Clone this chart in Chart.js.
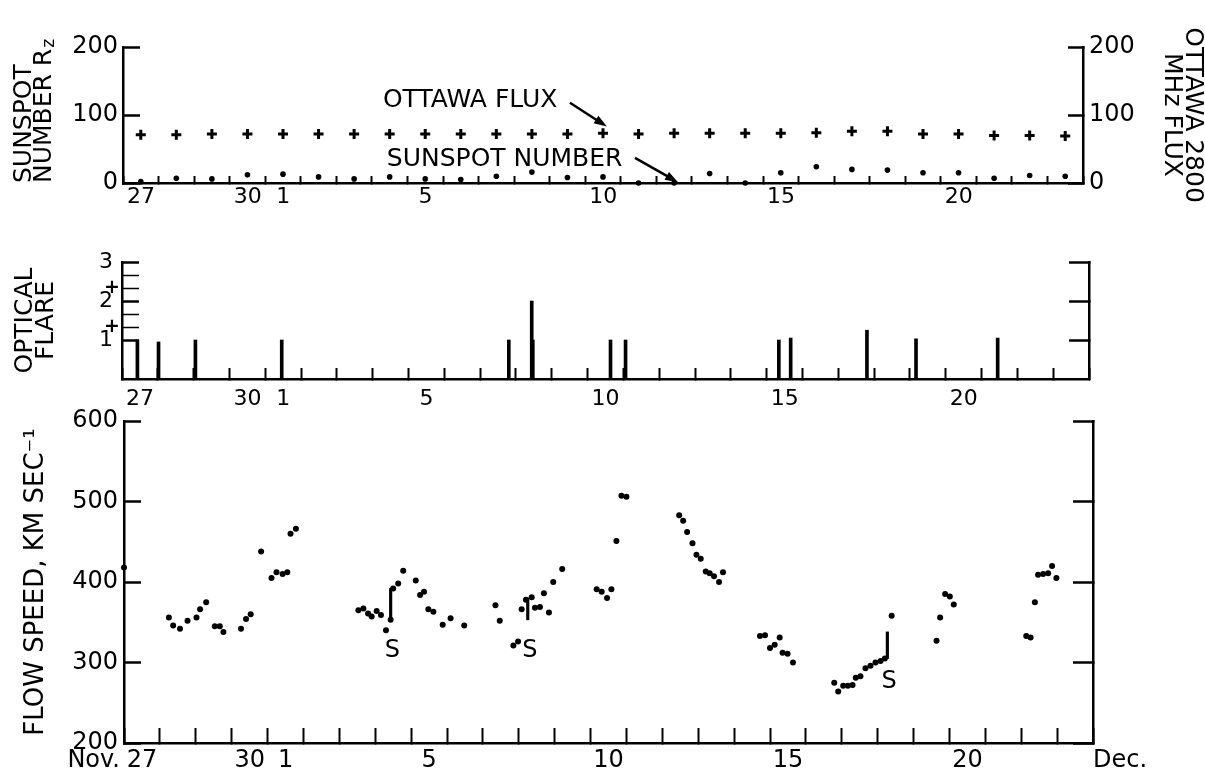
<!DOCTYPE html>
<html>
<head>
<meta charset="utf-8">
<script src="https://cdn.jsdelivr.net/npm/chart.js@4"></script>
<style>
  html, body { margin: 0; padding: 0; background: #fff; }
  #wrap { position: relative; width: 1205px; height: 779px; overflow: hidden; }
  canvas { position: absolute; left: 0; }
</style>
</head>
<body>
<div id="wrap">
  <canvas id="sunspotChart" width="1205" height="215" style="top:0"></canvas>
  <canvas id="flareChart" width="1205" height="195" style="top:215px"></canvas>
  <canvas id="speedChart" width="1205" height="379" style="top:400px"></canvas>
</div>
<script>
const FONT = '"DejaVu Sans", sans-serif';
const INK = "#000";

// days run Nov 27 .. Dec 23, one entry per day
const dayLabels = ["27", "28", "29", "30", "1", "2", "3", "4", "5", "6", "7", "8", "9", "10",
  "11", "12", "13", "14", "15", "16", "17", "18", "19", "20", "21", "22", "23"];
const shownDays = ["27", "30", "1", "5", "10", "15", "20"];

// daily values (top panel)
const sunspotNumber = [2, 7, 6, 12, 13, 9, 6, 9, 6, 5, 10, 16, 8, 9, 0, 0, 14, 0, 15, 24, 20, 19, 15, 15, 7, 11, 10];
const ottawaFlux = [71, 71, 72, 72, 72, 72, 72, 72, 72, 72, 72, 72, 72, 73, 72, 73, 73, 73, 73, 74, 76, 76, 72, 72, 70, 70, 69];
const fluxTicks = [0, 100, 200];

// optical flares: time in days after Nov 27 0h, importance
const flareClasses = ["1", "1+", "2-", "2", "2+", "3-", "3"];
const flareDay = [0.43, 1.02, 2.05, 4.46, 10.80, 11.44, 11.47, 13.64, 14.06, 18.34, 18.67, 20.80, 22.17, 24.45];
const flareImportance = [1, 0.95, 1, 1, 1, 2, 1, 1, 1, 1, 1.05, 1.25, 1.03, 1.05];

// solar wind flow speed
const speedDay = [0.00, 1.25, 1.37, 1.56, 1.77, 2.02, 2.12, 2.29, 2.53, 2.67, 2.77, 3.26, 3.40, 3.53, 3.82, 4.11, 4.25, 4.42, 4.55, 4.64, 4.79,
  6.53, 6.67, 6.80, 6.90, 7.04, 7.16, 7.30, 7.43, 7.50, 7.64, 7.78, 8.13, 8.25, 8.36, 8.48, 8.62, 8.88, 9.10, 9.48,
  10.35, 10.47, 10.85, 10.98, 11.08, 11.20, 11.36, 11.45, 11.59, 11.70, 11.84, 11.96, 12.21,
  13.17, 13.31, 13.46, 13.58, 13.72, 13.86, 14.00,
  15.47, 15.58, 15.69, 15.84, 15.95, 16.07, 16.21, 16.32, 16.44, 16.58, 16.69,
  17.72, 17.86, 18.00, 18.13, 18.27, 18.35, 18.49, 18.64,
  19.79, 19.90, 20.04, 20.17, 20.30, 20.39, 20.52, 20.66, 20.80, 20.94, 21.08, 21.20, 21.39,
  22.64, 22.74, 22.88, 23.01, 23.12,
  25.14, 25.26, 25.38, 25.47, 25.61, 25.75, 25.86, 25.98];
const speedKms = [418, 356, 346, 342, 352, 356, 366, 375, 345, 345, 338, 342, 354, 360, 438, 405, 412, 410, 412, 460, 466,
  365, 367, 361, 357, 364, 359, 340, 353, 392, 398, 414, 402, 384, 388, 366, 363, 347, 355, 346,
  371, 352, 321, 326, 366, 378, 381, 368, 369, 386, 362, 400, 416,
  391, 388, 380, 391, 451, 507, 506,
  483, 476, 462, 448, 434, 429, 413, 411, 407, 400, 412,
  333, 334, 318, 322, 331, 312, 311, 300,
  275, 264, 271, 271, 272, 281, 283, 293, 296, 300, 302, 305, 358,
  327, 356, 385, 382, 372,
  333, 331, 375, 409, 410, 411, 420, 405];
const speedTicks = [200, 300, 400, 500, 600];

// shocks (S): jump in speed
const shockDay = [7.43, 11.25, 21.27];
const shockFrom = [353, 353, 305];
const shockTo = [392, 380, 338];

function classValue(c) {
  const base = parseInt(c, 10);
  if (c.endsWith("+")) return base + 1 / 3;
  if (c.endsWith("-")) return base - 1 / 3;
  return base;
}

// label paddings would otherwise push the plot area around
function noScalePadding(s) {
  s.paddingTop = 0;
  s.paddingBottom = 0;
  s.paddingLeft = 0;
  s.paddingRight = 0;
}

function dayAxis(tick, pad, size, height) {
  return {
    type: "linear", min: 0, max: dayLabels.length, offset: false,
    border: { color: INK, width: 2.5 },
    grid: { drawOnChartArea: false, offset: false, tickLength: -tick, tickColor: INK, tickWidth: 2 },
    ticks: {
      autoSkip: false, maxRotation: 0, minRotation: 0, labelOffset: 18, padding: pad, color: INK,
      font: { family: FONT, size, lineHeight: 1 },
      callback: (v) => {
        const lab = dayLabels[Math.round(v)];
        return shownDays.includes(lab) ? lab : "";
      }
    },
    afterBuildTicks: (s) => { s.ticks = dayLabels.map((_, i) => ({ value: i })).concat({ value: dayLabels.length }); },
    afterFit: (s) => { s.height = height; noScalePadding(s); }
  };
}

function valueAxis(position, o) {
  const tSize = o.titleSize || 24;
  return {
    type: "linear", position, min: o.min, max: o.max,
    border: { color: INK, width: 2.5 },
    grid: { drawOnChartArea: false, tickLength: -o.tick, tickColor: INK, tickWidth: o.tickWidth || 2.5 },
    ticks: {
      display: o.labels !== false, autoSkip: false, padding: o.pad || 0, color: INK,
      font: o.font || { family: FONT, size: o.size || 24, lineHeight: 1 },
      callback: o.callback || ((v) => String(v))
    },
    title: o.title ? {
      display: true, text: o.title, align: o.titleAlign || "center", color: INK,
      font: { family: FONT, size: tSize, lineHeight: o.titleLine / tSize },
      padding: { top: o.titlePad, bottom: 0 }
    } : { display: false },
    afterBuildTicks: (s) => { s.ticks = o.values.map((v) => ({ value: v })); },
    afterFit: (s) => { s.width = o.width; noScalePadding(s); }
  };
}

function baseOptions(top, scales) {
  return {
    responsive: false,
    animation: false,
    events: [],
    layout: { padding: { top, left: 0, right: 0, bottom: 0 } },
    plugins: { legend: { display: false }, tooltip: { enabled: false } },
    scales
  };
}

function drawArrow(ctx, x1, y1, x2, y2) {
  const ang = Math.atan2(y2 - y1, x2 - x1);
  const len = 13, half = 4.5;
  const c = Math.cos(ang), s = Math.sin(ang);
  ctx.lineWidth = 2.5;
  ctx.beginPath();
  ctx.moveTo(x1, y1);
  ctx.lineTo(x2 - c * len * 0.8, y2 - s * len * 0.8);
  ctx.stroke();
  ctx.beginPath();
  ctx.moveTo(x2, y2);
  ctx.lineTo(x2 - c * len + s * half, y2 - s * len - c * half);
  ctx.lineTo(x2 - c * len - s * half, y2 - s * len + c * half);
  ctx.closePath();
  ctx.fill();
}

// free text + arrows placed in data units of the chart's own scales
function notes(cfg) {
  return {
    id: "notes",
    afterDraw(chart) {
      const { ctx, scales } = chart;
      const xs = scales.x;
      ctx.save();
      ctx.fillStyle = INK;
      ctx.strokeStyle = INK;
      (cfg.texts || []).forEach((t) => {
        const ys = scales[t.axis || "y"];
        ctx.font = (t.size || 24) + "px " + FONT;
        ctx.textAlign = t.align || "left";
        ctx.textBaseline = t.baseline || "alphabetic";
        ctx.fillText(t.text, xs.getPixelForValue(t.x), ys.getPixelForValue(t.y));
      });
      (cfg.arrows || []).forEach((a) => {
        const ys = scales[a.axis || "y"];
        drawArrow(ctx, xs.getPixelForValue(a.from[0]), ys.getPixelForValue(a.from[1]),
          xs.getPixelForValue(a.to[0]), ys.getPixelForValue(a.to[1]));
      });
      // texts sitting on the tick label row of the x axis
      (cfg.rowTexts || []).forEach((t) => {
        const o = xs.options;
        const size = o.ticks.font.size;
        const y = xs.top + o.grid.tickLength + o.ticks.padding + size / 2;
        ctx.font = size + "px " + FONT;
        ctx.textAlign = t.align;
        ctx.textBaseline = "middle";
        ctx.fillText(t.text, xs.getPixelForValue(t.x) + (t.nudge || 0), y);
      });
      ctx.restore();
    }
  };
}

const TOP_TITLE = { size: 25, line: 20, pad: 14 };

// subscript z of R_z in the sunspot axis title
const rzSubscript = {
  id: "rzSubscript",
  afterDraw(chart) {
    const s = chart.scales.y;
    const ctx = chart.ctx;
    ctx.save();
    ctx.font = TOP_TITLE.size + "px " + FONT;
    const w = ctx.measureText("NUMBER R").width;
    const lineX = s.left + TOP_TITLE.pad + TOP_TITLE.line / 2 + TOP_TITLE.line;
    ctx.translate(lineX + 6, s.bottom - w - 1);
    ctx.rotate(-Math.PI / 2);
    ctx.font = "17px " + FONT;
    ctx.fillStyle = INK;
    ctx.textAlign = "left";
    ctx.textBaseline = "middle";
    ctx.fillText("z", 0, 0);
    ctx.restore();
  }
};

// ---- top panel: sunspot number and Ottawa 2800 MHz flux ----
new Chart(document.getElementById("sunspotChart"), {
  type: "scatter",
  data: {
    datasets: [
      {
        label: "Sunspot number",
        data: sunspotNumber.map((v, i) => ({ x: i + 0.5, y: v })),
        yAxisID: "y", pointRadius: 2.8, backgroundColor: INK, borderWidth: 0, clip: false
      },
      {
        label: "Ottawa flux",
        data: ottawaFlux.map((v, i) => ({ x: i + 0.5, y: v })),
        yAxisID: "y2", pointStyle: "cross", pointRadius: 5, borderColor: INK, borderWidth: 3, clip: false
      }
    ]
  },
  options: baseOptions(47, {
    x: dayAxis(7, 10, 22, 32),
    y: valueAxis("left", {
      min: 0, max: 200, values: fluxTicks, tick: 17, pad: 22, width: 123,
      title: ["SUNSPOT", "NUMBER R"], titleAlign: "start",
      titleSize: TOP_TITLE.size, titleLine: TOP_TITLE.line, titlePad: TOP_TITLE.pad
    }),
    y2: valueAxis("right", {
      min: 0, max: 200, values: fluxTicks, tick: 15, pad: 21, width: 122,
      title: ["OTTAWA 2800", "MHz FLUX"], titleSize: 25, titleLine: 21, titlePad: 2
    })
  }),
  plugins: [
    notes({
      texts: [
        { text: "OTTAWA FLUX", x: 7.31, y: 112, size: 25 },
        { text: "SUNSPOT NUMBER", x: 7.42, y: 25, size: 25 }
      ],
      arrows: [
        { from: [12.57, 118], to: [13.61, 83] },
        { from: [14.40, 37], to: [15.61, 1] }
      ]
    }),
    rzSubscript
  ]
});

// ---- middle panel: optical flares ----
const flareTickValues = flareClasses.map(classValue);
// whole classes get a number (with a trailing space), "+" classes a small plus, "-" classes nothing
const flareTickLabels = flareClasses.map((c) => c.endsWith("+") ? "+" : (c.endsWith("-") ? "" : c + " "));

new Chart(document.getElementById("flareChart"), {
  type: "scatter",
  data: {
    datasets: [{
      type: "bar",
      label: "Optical flare",
      data: flareDay.map((d, i) => ({ x: d, y: flareImportance[i] })),
      backgroundColor: INK, borderWidth: 0, barThickness: 3, clip: false
    }]
  },
  options: baseOptions(47, {
    x: dayAxis(11, 20, 22, 31),
    y: valueAxis("left", {
      min: 0, max: 3, values: flareTickValues, tick: 17, pad: 19, width: 122,
      font: (c) => ({ family: FONT, size: Number.isInteger(c.tick && c.tick.value) ? 22 : 19, weight: Number.isInteger(c.tick && c.tick.value) ? "normal" : "bold", lineHeight: 1 }),
      tickWidth: (c) => (Number.isInteger(c.tick && c.tick.value) ? 2.5 : 1.5),
      callback: (v, i) => flareTickLabels[i],
      title: ["OPTICAL", "FLARE"], titleSize: 25, titleLine: 21, titlePad: 15
    }),
    y2: valueAxis("right", {
      min: 0, max: 3, values: [1, 2, 3], tick: 20, width: 116, labels: false
    })
  })
});

// ---- bottom panel: flow speed ----
new Chart(document.getElementById("speedChart"), {
  type: "scatter",
  data: {
    datasets: [
      {
        label: "Flow speed",
        data: speedDay.map((d, i) => ({ x: d, y: speedKms[i] })),
        pointRadius: 3, backgroundColor: INK, borderWidth: 0, clip: false
      },
      {
        type: "bar",
        label: "Shock",
        data: shockDay.map((d, i) => ({ x: d, y: [shockFrom[i], shockTo[i]] })),
        backgroundColor: INK, borderWidth: 0, barThickness: 2.5, clip: false
      }
    ]
  },
  options: baseOptions(21, {
    x: dayAxis(15, 21, 24, 36),
    y: valueAxis("left", {
      min: 200, max: 600, values: speedTicks, tick: 17, pad: 23, width: 124,
      title: "FLOW SPEED, KM SEC\u207B\u00B9", titleSize: 26, titleLine: 24, titlePad: 24
    }),
    y2: valueAxis("right", {
      min: 200, max: 600, values: speedTicks, tick: 20, width: 112, labels: false
    })
  }),
  plugins: [
    notes({
      texts: [
        { text: "S", x: 7.48, y: 315, align: "center", baseline: "middle" },
        { text: "S", x: 11.31, y: 315, align: "center", baseline: "middle" },
        { text: "S", x: 21.32, y: 276, align: "center", baseline: "middle" }
      ],
      rowTexts: [
        { text: "Nov.", x: 0, align: "right", nudge: -4 },
        { text: "Dec.", x: dayLabels.length, align: "left", nudge: 0 }
      ]
    })
  ]
});
</script>
</body>
</html>
